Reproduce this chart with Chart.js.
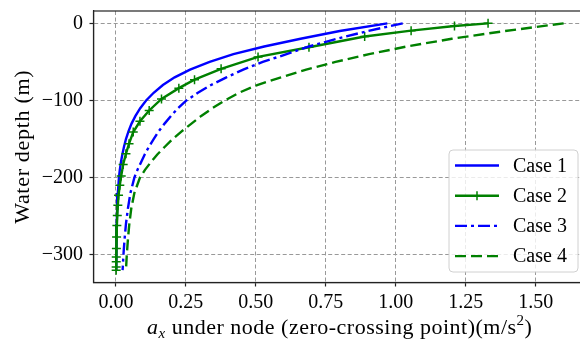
<!DOCTYPE html>
<html>
  <head>
    <title>Chart</title>
    <meta charset="UTF-8" />
    <script src="https://cdn.jsdelivr.net/npm/chart.js@4.4.0/dist/chart.umd.min.js"></script>
    <style>
      html, body { margin: 0; padding: 0; background: #fff; overflow: hidden; }
    </style>
  </head>
  <body>
    <canvas id="myChart" width="592" height="344"></canvas>
    <script>
      // depths (m) shared by cases 1, 3 and 4
      var depths = [0, -10, -20, -30, -40, -50, -60, -70, -80, -90, -100, -110, -120, -130, -140, -150,
                    -160, -170, -180, -190, -200, -220, -240, -260, -280, -300, -320];
      var case1 = [0.97, 0.80, 0.66, 0.53, 0.42, 0.335, 0.265, 0.21, 0.168, 0.135, 0.108, 0.087, 0.070, 0.056, 0.045, 0.036,
                   0.029, 0.023, 0.018, 0.014, 0.011, 0.007, 0.0045, 0.003, 0.002, 0.0015, 0.001];
      var case3 = [1.025, 0.90, 0.79, 0.69, 0.61, 0.525, 0.455, 0.395, 0.34, 0.293, 0.252, 0.222, 0.197, 0.174, 0.153, 0.135,
                   0.118, 0.103, 0.090, 0.077, 0.066, 0.052, 0.043, 0.036, 0.031, 0.027, 0.024];
      var case4 = [1.60, 1.39, 1.20, 1.04, 0.905, 0.785, 0.68, 0.59, 0.505, 0.44, 0.39, 0.345, 0.305, 0.27, 0.235, 0.203,
                   0.175, 0.148, 0.125, 0.104, 0.086, 0.066, 0.055, 0.048, 0.043, 0.039, 0.036];
      // case 2 is drawn at its node positions (the + markers)
      var case2Depths = [0, -3.4, -9.5, -17, -31, -43.5, -59, -73, -84, -98, -113, -127, -141, -156, -169, -183,
                         -198, -210, -223, -236, -249, -262, -277, -292, -303, -309, -316, -320];
      var case2 = [1.33, 1.21, 1.055, 0.889, 0.69, 0.508, 0.376, 0.281, 0.225, 0.163, 0.119, 0.086, 0.062, 0.047, 0.036, 0.026,
                   0.019, 0.014, 0.0095, 0.007, 0.005, 0.0035, 0.0025, 0.0018, 0.0013, 0.0012, 0.001, 0.001];
      var seriesNames = ["Case 1", "Case 2", "Case 3", "Case 4"];
      var xTicks = [0, 0.25, 0.5, 0.75, 1.0, 1.25, 1.5];
      var yTicks = [0, -100, -200, -300];

      function pts(xs, ys) {
        var out = [];
        for (var i = 0; i < xs.length; i++) out.push({ x: xs[i], y: ys[i] });
        return out;
      }

      var serif = '"Liberation Serif", "Times New Roman", serif';

      // frame, axis titles and legend box
      var extras = {
        id: "extras",
        afterDraw: function(chart) {
          var ctx = chart.ctx;
          var a = chart.chartArea;
          ctx.save();
          ctx.strokeStyle = "#222";
          ctx.lineWidth = 1.2;
          ctx.strokeRect(a.left, a.top, a.right - a.left, a.bottom - a.top);

          // y title
          ctx.fillStyle = "#000";
          ctx.letterSpacing = "0.7px";
          ctx.font = "22px " + serif;
          ctx.textAlign = "center";
          ctx.textBaseline = "alphabetic";
          ctx.translate(29, (a.top + a.bottom) / 2);
          ctx.rotate(-Math.PI / 2);
          ctx.fillText("Water depth (m)", 0, 0);
          ctx.setTransform(1, 0, 0, 1, 0, 0);

          // x title with italic a, subscript x and superscript 2
          ctx.letterSpacing = "0.5px";
          var parts = [
            { t: "a", f: "italic 22px " + serif, dy: 0 },
            { t: "x", f: "italic 15px " + serif, dy: 4 },
            { t: " under node (zero-crossing point)(m/s", f: "22px " + serif, dy: 0 },
            { t: "2", f: "15px " + serif, dy: -9 },
            { t: ")", f: "22px " + serif, dy: 0 }
          ];
          var w = 0;
          parts.forEach(function(p) { ctx.font = p.f; w += ctx.measureText(p.t).width; });
          var x = (a.left + a.right) / 2 - w / 2;
          ctx.textAlign = "left";
          parts.forEach(function(p) {
            ctx.font = p.f;
            ctx.fillText(p.t, x, 334 + p.dy);
            x += ctx.measureText(p.t).width;
          });
          ctx.letterSpacing = "0px";

          // legend
          var bx = 449, by = 150, bw = 129, bh = 122;
          ctx.beginPath();
          ctx.roundRect(bx, by, bw, bh, 4);
          ctx.fillStyle = "rgba(255,255,255,0.8)";
          ctx.fill();
          ctx.strokeStyle = "#d0d0d0";
          ctx.lineWidth = 1;
          ctx.stroke();
          ctx.font = "20px " + serif;
          ctx.textBaseline = "middle";
          chart.data.datasets.forEach(function(ds, i) {
            var yy = 165.5 + i * 30.2;
            ctx.strokeStyle = ds.borderColor;
            ctx.lineWidth = ds.borderWidth;
            ctx.setLineDash(ds.borderDash || []);
            ctx.beginPath();
            ctx.moveTo(455, yy);
            ctx.lineTo(499, yy);
            ctx.stroke();
            ctx.setLineDash([]);
            if (ds.pointRadius > 0) {
              ctx.lineWidth = ds.pointBorderWidth;
              ctx.beginPath();
              ctx.moveTo(477, yy - ds.pointRadius);
              ctx.lineTo(477, yy + ds.pointRadius);
              ctx.stroke();
            }
            ctx.fillStyle = "#000";
            ctx.fillText(ds.label, 513, yy + 1);
          });
          ctx.restore();
        }
      };

      var ctx = document.getElementById("myChart").getContext("2d");
      var chart = new Chart(ctx, {
        type: "scatter",
        data: {
          datasets: [
            {
              label: seriesNames[0],
              data: pts(case1, depths),
              showLine: true,
              borderColor: "#0000ff",
              borderWidth: 2.4,
              pointRadius: 0,
              order: 4
            },
            {
              label: seriesNames[1],
              data: pts(case2, case2Depths),
              showLine: true,
              borderColor: "#008000",
              borderWidth: 2.4,
              pointStyle: "cross",
              pointRadius: 4.5,
              pointBorderWidth: 1.5,
              pointBorderColor: "#008000",
              order: 3
            },
            {
              label: seriesNames[2],
              data: pts(case3, depths),
              showLine: true,
              borderColor: "#0000ff",
              borderWidth: 2.4,
              borderDash: [12, 4, 3, 4],
              pointRadius: 0,
              order: 2
            },
            {
              label: seriesNames[3],
              data: pts(case4, depths),
              showLine: true,
              borderColor: "#008000",
              borderWidth: 2.4,
              borderDash: [11, 5],
              pointRadius: 0,
              order: 1
            }
          ]
        },
        options: {
          responsive: false,
          animation: false,
          layout: { padding: { top: 11, right: 4.5, left: 0, bottom: 0 } },
          plugins: { legend: { display: false }, tooltip: { enabled: false } },
          scales: {
            x: {
              type: "linear",
              min: -0.08,
              max: 1.68,
              afterBuildTicks: function(scale) {
                scale.ticks = xTicks.map(function(v) { return { value: v }; });
              },
              afterFit: function(scale) {
                scale.height = 61.5;
                scale.paddingLeft = 0;
                scale.paddingRight = 0;
              },
              ticks: {
                color: "#000",
                font: { family: serif, size: 20 },
                padding: 4,
                maxRotation: 0,
                callback: function(v) { return v.toFixed(2); }
              },
              grid: { color: "#999", lineWidth: 1, tickLength: 4, tickColor: "#222", tickWidth: 1.2, tickBorderDash: [] },
              border: { display: true, color: "#222", width: 1.2, dash: [4, 2.5] }
            },
            y: {
              type: "linear",
              min: -336,
              max: 16,
              afterBuildTicks: function(scale) {
                scale.ticks = yTicks.map(function(v) { return { value: v }; });
              },
              afterFit: function(scale) {
                scale.width = 93.5;
                scale.paddingTop = 0;
                scale.paddingBottom = 0;
              },
              ticks: {
                color: "#000",
                font: { family: serif, size: 20 },
                padding: 6.5,
                callback: function(v) { return v < 0 ? "\u2212" + Math.abs(v) : String(v); }
              },
              grid: { color: "#999", lineWidth: 1, tickLength: 4, tickColor: "#222", tickWidth: 1.2, tickBorderDash: [] },
              border: { display: true, color: "#222", width: 1.2, dash: [4, 2.5] }
            }
          }
        },
        plugins: [extras]
      });
    </script>
  </body>
</html>
